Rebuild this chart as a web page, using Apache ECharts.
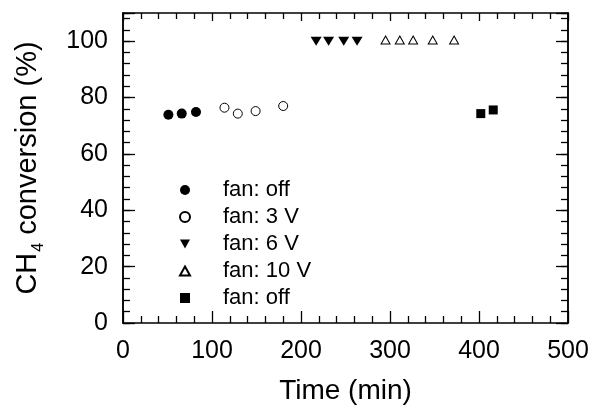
<!DOCTYPE html>
<html>
<head>
<meta charset="utf-8">
<script src="https://cdn.jsdelivr.net/npm/echarts@6/dist/echarts.min.js"></script>
<style>
html,body{margin:0;padding:0;background:#fff;}
#chart{width:594px;height:411px;}
</style>
</head>
<body>
<div id="chart"></div>
<script>
// Data
var offTime = [51, 66, 82];
var offConv = [73.9, 74.3, 74.9];
var v3Time = [114, 129, 149, 180];
var v3Conv = [76.4, 74.3, 75.2, 77.0];
var v6Time = [217, 231, 248, 263];
var v6Conv = [100, 100, 100, 100];
var v10Time = [295, 311, 326, 348, 372];
var v10Conv = [100.4, 100.4, 100.4, 100.4, 100.4];
var off2Time = [402, 416];
var off2Conv = [74.3, 75.6];
var seriesNames = ['fan: off', 'fan: 3 V', 'fan: 6 V', 'fan: 10 V', 'fan: off '];
var xTicks = [0, 100, 200, 300, 400, 500];
var yTicks = [0, 20, 40, 60, 80, 100];

function pairs(xs, ys) { return xs.map(function (x, i) { return [x, ys[i]]; }); }

var FONT = 'Liberation Sans, Arial, sans-serif';
var chart = echarts.init(document.getElementById('chart'), null, {renderer: 'canvas'});

var DOWN = 'path://M0,0 L10,0 L5,9 Z';
var UP = 'path://M5,0 L10,9 L0,9 Z';

var lineStyle = {color: '#000', width: 1.5};
function xAx(pos, showLabels, major, minor) {
  return {
    type: 'value', position: pos, min: 0, max: 500, interval: 100,
    axisLine: {show: true, onZero: false, lineStyle: lineStyle},
    axisTick: {show: true, inside: true, length: major, lineStyle: {color: '#000', width: 1.3}},
    minorTick: {show: true, splitNumber: 5, length: minor, lineStyle: {color: '#000', width: 1.3}},
    splitLine: {show: false},
    axisLabel: {show: showLabels, fontSize: 25, color: '#000', fontFamily: FONT, margin: 16,
      formatter: function (v) { return xTicks.indexOf(v) >= 0 ? String(v) : ''; }},
    name: showLabels ? 'Time (min)' : '',
    nameLocation: 'middle', nameGap: 54,
    nameTextStyle: {fontSize: 28, color: '#000', fontFamily: FONT}
  };
}
function yAx(pos, interval, showLabels, len) {
  return {
    type: 'value', position: pos, min: 0, max: 110, interval: interval,
    axisLine: {show: true, onZero: false, lineStyle: lineStyle},
    axisTick: {show: true, inside: true, length: len, lineStyle: {color: '#000', width: 1.3}},
    splitLine: {show: false},
    axisLabel: {show: showLabels, fontSize: 25, color: '#000', fontFamily: FONT, margin: 15,
      formatter: function (v) { return yTicks.indexOf(v) >= 0 ? String(v) : ''; }},
    name: showLabels ? '{a|CH}{s|4}{a| conversion (%)}' : '',
    nameLocation: 'middle', nameGap: 76, nameRotate: 90,
    nameTextStyle: {fontSize: 29, color: '#000', fontFamily: FONT,
      rich: {
        a: {fontSize: 29, color: '#000', fontFamily: FONT},
        s: {fontSize: 16, color: '#000', fontFamily: FONT, padding: [22, 0, 0, 1]}
      }}
  };
}

var common = {type: 'scatter', xAxisIndex: 0, yAxisIndex: 0, z: 5};
var filled = {color: '#000', opacity: 1};
var hollow = {color: '#fff', borderColor: '#000', borderWidth: 1, opacity: 1};
var option = {
  animation: false,
  backgroundColor: '#fff',
  grid: {left: 123, right: 26, top: 13, bottom: 88, containLabel: false},
  xAxis: [xAx('bottom', true, 12, 7), xAx('top', false, 8, 6)],
  yAxis: [yAx('left', 20, true, 12), yAx('left', 4, false, 7), yAx('right', 20, false, 12), yAx('right', 4, false, 7)],
  legend: {
    orient: 'vertical', left: 174, top: 174,
    itemWidth: 10, itemHeight: 10, itemGap: 5,
    textStyle: {fontSize: 22, color: '#000', fontFamily: FONT, padding: [0, 0, 0, 28]},
    data: [
      {name: seriesNames[0], icon: 'circle'},
      {name: seriesNames[1], icon: 'circle'},
      {name: seriesNames[2], icon: DOWN},
      {name: seriesNames[3], icon: UP},
      {name: seriesNames[4], icon: 'rect'}
    ]
  },
  series: [
    Object.assign({}, common, {name: seriesNames[0], data: pairs(offTime, offConv), symbol: 'circle', symbolSize: 10,
      itemStyle: filled}),
    Object.assign({}, common, {name: seriesNames[1], data: pairs(v3Time, v3Conv), symbol: 'circle', symbolSize: 9,
      itemStyle: hollow}),
    Object.assign({}, common, {name: seriesNames[2], data: pairs(v6Time, v6Conv), symbol: DOWN, symbolSize: [11, 9],
      itemStyle: filled}),
    Object.assign({}, common, {name: seriesNames[3], data: pairs(v10Time, v10Conv), symbol: UP, symbolSize: [9, 8],
      itemStyle: hollow}),
    Object.assign({}, common, {name: seriesNames[4], data: pairs(off2Time, off2Conv), symbol: 'rect', symbolSize: 9,
      itemStyle: filled})
  ]
};
chart.setOption(option);
</script>
</body>
</html>
